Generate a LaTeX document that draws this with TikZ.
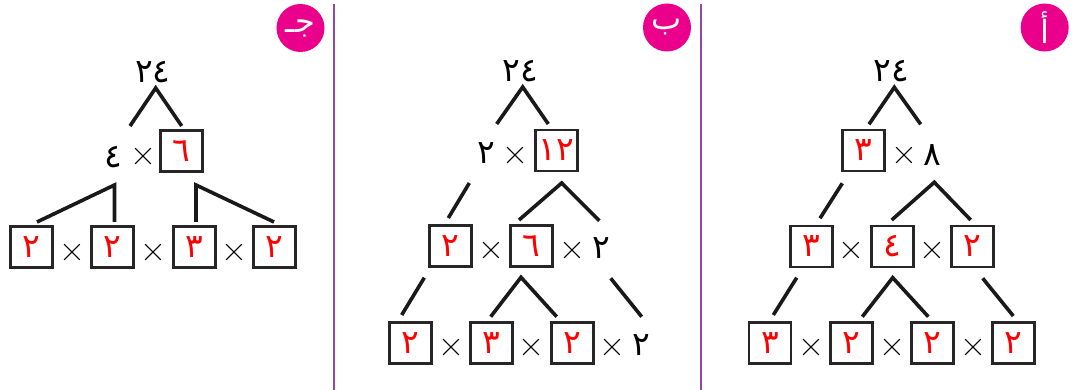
\documentclass[tikz,border=0pt]{standalone}
\usepackage{fontspec}
\newfontfamily\arabicfont[Script=Arabic]{DejaVu Sans}
\TeXXeTstate=1
\definecolor{mag}{RGB}{234,0,138}
\definecolor{purp}{RGB}{146,72,166}
\tikzset{
 num/.style={font=\arabicfont\fontsize{33}{33}\selectfont, inner sep=0pt},
 rbox/.style={draw=black!85, line width=2.9pt, minimum width=42pt, minimum height=41pt, inner sep=0pt, text=red, font=\arabicfont\fontsize{33}{33}\selectfont},
 times/.style={font=\fontsize{36}{36}\selectfont, inner sep=0pt},
 branch/.style={line width=3.6pt, draw=black!90},
 badge/.style={circle, fill=mag, minimum size=48pt, inner sep=0pt, text=white, font=\arabicfont\fontsize{32}{32}\selectfont},
 divider/.style={line width=2.6pt, draw=purp}
}
\begin{document}
\begin{tikzpicture}[x=1pt,y=-1pt]
\useasboundingbox (0,0) rectangle (1077,390);
% dividers
\coordinate (d1t) at (334,4); \coordinate (d1b) at (334,390);
\coordinate (d2t) at (701,4); \coordinate (d2b) at (701,390);
\draw[divider] (d1t) -- (d1b);
\draw[divider] (d2t) -- (d2b);
% badges
\node[badge] (bj) at (300.5,28) {\beginR جـ\endR};
\node[badge] (bb) at (667,27.5) {\beginR ب\endR};
\node[badge] (ba) at (1044.7,27.5) {\beginR أ\endR};

% ===== Panel jim (left) =====
\node[num] (j24) at (153,72) {٢٤};
\coordinate (ja) at (155.7,88);
\coordinate (jal) at (130,126); \coordinate (jar) at (181.7,126);
\draw[branch] (jal) -- (ja) -- (jar);
\node[num] (j4) at (113,157) {٤};
\node[times] (jx0) at (143,157) {×};
\node[rbox] (j6) at (181.7,151) {٦};
\coordinate (jb) at (114.5,185); \coordinate (jbl) at (37,222); \coordinate (jbr) at (114.5,222);
\draw[branch] (jbl) -- (jb) -- (jbr);
\coordinate (jc) at (196,185); \coordinate (jcl) at (196,222); \coordinate (jcr) at (274,222);
\draw[branch] (jcl) -- (jc) -- (jcr);
\node[rbox] (j1) at (31.5,247) {٢};
\node[times] (jx1) at (72,253) {×};
\node[rbox] (j2) at (112.5,247) {٢};
\node[times] (jx2) at (153,253) {×};
\node[rbox] (j3) at (194.5,247) {٣};
\node[times] (jx3) at (234,253) {×};
\node[rbox] (j4b) at (274.5,247) {٢};

% ===== Panel ba (middle) =====
\node[num] (b24) at (520,71) {٢٤};
\coordinate (ba1) at (522.7,87);
\coordinate (ba1l) at (496.7,124); \coordinate (ba1r) at (548.3,124);
\draw[branch] (ba1l) -- (ba1) -- (ba1r);
\node[num] (b2a) at (486.7,153) {٢};
\node[times] (bx0) at (515.7,156) {×};
\node[rbox] (b12) at (556.3,150.5) {١٢};
\coordinate (bl1s) at (469.3,183); \coordinate (bl1e) at (448.3,218);
\draw[branch] (bl1s) -- (bl1e);
\coordinate (ba2) at (561.7,183);
\coordinate (ba2l) at (519,220); \coordinate (ba2r) at (599.3,220.7);
\draw[branch] (ba2l) -- (ba2) -- (ba2r);
\node[rbox] (bm1) at (450.8,246.3) {٢};
\node[times] (bx1) at (491,251) {×};
\node[rbox] (bm2) at (531.7,246.3) {٦};
\node[times] (bx2) at (572.3,251) {×};
\node[num] (bm3) at (601.7,248) {٢};
\coordinate (bl2s) at (424.3,277.7); \coordinate (bl2e) at (401.7,315);
\draw[branch] (bl2s) -- (bl2e);
\coordinate (ba3) at (521,277.3);
\coordinate (ba3l) at (490.7,316.7); \coordinate (ba3r) at (556.7,316.7);
\draw[branch] (ba3l) -- (ba3) -- (ba3r);
\coordinate (bl3s) at (610.7,278.3); \coordinate (bl3e) at (641.7,316.7);
\draw[branch] (bl3s) -- (bl3e);
\node[rbox] (bb1) at (410.2,343) {٢};
\node[times] (bx3) at (451,348) {×};
\node[rbox] (bb2) at (491.7,343) {٣};
\node[times] (bx4) at (531.7,348) {×};
\node[rbox] (bb3) at (572.2,343) {٢};
\node[times] (bx5) at (612.7,348) {×};
\node[num] (bb4) at (641,345) {٢};

% ===== Panel alif (right) =====
\node[num] (a24) at (891.7,71) {٢٤};
\coordinate (aa1) at (894.3,87.3);
\coordinate (aa1l) at (869,124.3); \coordinate (aa1r) at (920.7,124.3);
\draw[branch] (aa1l) -- (aa1) -- (aa1r);
\node[rbox] (a3) at (863.8,150.5) {٣};
\node[times] (ax0) at (904.3,156) {×};
\node[num] (a8) at (932.3,155) {٨};
\coordinate (al1s) at (842.3,183.3); \coordinate (al1e) at (820,218.3);
\draw[branch] (al1s) -- (al1e);
\coordinate (aa2) at (934.3,182.3);
\coordinate (aa2l) at (891.7,220); \coordinate (aa2r) at (970.7,220);
\draw[branch] (aa2l) -- (aa2) -- (aa2r);
\node[rbox] (am1) at (811.2,246.5) {٣};
\node[times] (ax1) at (851,251) {×};
\node[rbox] (am2) at (892.2,246.5) {٤};
\node[times] (ax2) at (932.3,251) {×};
\node[rbox] (am3) at (972.8,246.5) {٢};
\coordinate (al2s) at (796.7,277.7); \coordinate (al2e) at (773.3,315);
\draw[branch] (al2s) -- (al2e);
\coordinate (aa3) at (892.7,277.7);
\coordinate (aa3l) at (862.3,316.7); \coordinate (aa3r) at (928.3,316.7);
\draw[branch] (aa3l) -- (aa3) -- (aa3r);
\coordinate (al3s) at (982.7,278.3); \coordinate (al3e) at (1013.3,316);
\draw[branch] (al3s) -- (al3e);
\node[rbox] (ab1) at (770,342.8) {٣};
\node[times] (ax3) at (811,348) {×};
\node[rbox] (ab2) at (851.2,342.8) {٢};
\node[times] (ax4) at (892.3,348) {×};
\node[rbox] (ab3) at (932.8,342.8) {٢};
\node[times] (ax5) at (973.3,348) {×};
\node[rbox] (ab4) at (1013.8,342.8) {٢};
\end{tikzpicture}
\end{document}
